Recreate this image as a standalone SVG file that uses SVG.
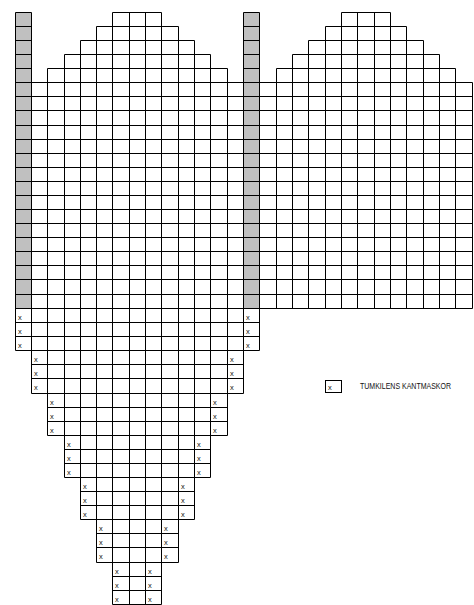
<svg xmlns="http://www.w3.org/2000/svg" width="474" height="605" viewBox="0 0 474 605">
<style>
.g{fill:#c0c0c0;stroke:none}
.ln{fill:none;stroke:#000;stroke-width:1}
.x{font-family:"Liberation Sans",Arial,sans-serif;font-size:7.5px;fill:#111}
.lt{font-family:"Liberation Sans",Arial,sans-serif;font-size:8.5px;fill:#111}
</style>
<rect width="474" height="605" fill="#fff"/>
<g id="edge-columns">
<rect class="g" x="15.5" y="12.5" width="16" height="296"/>
<rect class="g" x="243.5" y="12.5" width="16" height="296"/>
</g>
<g id="grid">
<path class="ln" d="
M15.5 12.5H31.5 M112.5 12.5H161.5 M243.5 12.5H259.5 M341.5 12.5H390.5
M15.5 26.5H31.5 M96.5 26.5H178.5 M243.5 26.5H259.5 M325.5 26.5H406.5
M15.5 40.5H31.5 M80.5 40.5H194.5 M243.5 40.5H259.5 M308.5 40.5H423.5
M15.5 54.5H31.5 M64.5 54.5H210.5 M243.5 54.5H259.5 M292.5 54.5H439.5
M15.5 68.5H31.5 M47.5 68.5H227.5 M243.5 68.5H259.5 M276.5 68.5H455.5
M15.5 82.5H472.5 M15.5 96.5H472.5 M15.5 110.5H472.5 M15.5 125.5H472.5
M15.5 139.5H472.5 M15.5 153.5H472.5 M15.5 167.5H472.5 M15.5 181.5H472.5
M15.5 195.5H472.5 M15.5 209.5H472.5 M15.5 223.5H472.5 M15.5 237.5H472.5
M15.5 251.5H472.5 M15.5 265.5H472.5 M15.5 279.5H472.5 M15.5 294.5H472.5
M15.5 308.5H472.5
M15.5 322.5H259.5 M15.5 336.5H259.5 M15.5 350.5H259.5
M31.5 364.5H243.5 M31.5 378.5H243.5 M31.5 393.5H243.5
M47.5 407.5H227.5 M47.5 421.5H227.5 M47.5 435.5H227.5
M64.5 449.5H210.5 M64.5 463.5H210.5 M64.5 477.5H210.5
M80.5 491.5H194.5 M80.5 505.5H194.5 M80.5 519.5H194.5
M96.5 533.5H178.5 M96.5 547.5H178.5 M96.5 562.5H178.5
M112.5 576.5H161.5 M112.5 590.5H161.5 M112.5 604.5H161.5
M15.5 12.5V350.5
M31.5 12.5V393.5
M47.5 68.5V435.5
M64.5 54.5V477.5
M80.5 40.5V519.5
M96.5 26.5V562.5
M112.5 12.5V604.5
M129.5 12.5V604.5
M145.5 12.5V604.5
M161.5 12.5V604.5
M178.5 26.5V562.5
M194.5 40.5V519.5
M210.5 54.5V477.5
M227.5 68.5V435.5
M243.5 12.5V393.5
M259.5 12.5V350.5
M276.5 68.5V308.5
M292.5 54.5V308.5
M308.5 40.5V308.5
M325.5 26.5V308.5
M341.5 12.5V308.5
M357.5 12.5V308.5
M374.5 12.5V308.5
M390.5 12.5V308.5
M406.5 26.5V308.5
M423.5 40.5V308.5
M439.5 54.5V308.5
M455.5 68.5V308.5
M472.5 82.5V308.5
"/>
</g>
<g id="marks">
<text class="x" x="18" y="319.5">x</text><text class="x" x="246" y="319.5">x</text>
<text class="x" x="18" y="333.5">x</text><text class="x" x="246" y="333.5">x</text>
<text class="x" x="18" y="347.5">x</text><text class="x" x="246" y="347.5">x</text>
<text class="x" x="34" y="361.5">x</text><text class="x" x="230" y="361.5">x</text>
<text class="x" x="34" y="375.5">x</text><text class="x" x="230" y="375.5">x</text>
<text class="x" x="34" y="389.5">x</text><text class="x" x="230" y="389.5">x</text>
<text class="x" x="50" y="404.5">x</text><text class="x" x="213" y="404.5">x</text>
<text class="x" x="50" y="418.5">x</text><text class="x" x="213" y="418.5">x</text>
<text class="x" x="50" y="432.5">x</text><text class="x" x="213" y="432.5">x</text>
<text class="x" x="67" y="446.5">x</text><text class="x" x="197" y="446.5">x</text>
<text class="x" x="67" y="460.5">x</text><text class="x" x="197" y="460.5">x</text>
<text class="x" x="67" y="474.5">x</text><text class="x" x="197" y="474.5">x</text>
<text class="x" x="83" y="488.5">x</text><text class="x" x="181" y="488.5">x</text>
<text class="x" x="83" y="502.5">x</text><text class="x" x="181" y="502.5">x</text>
<text class="x" x="83" y="516.5">x</text><text class="x" x="181" y="516.5">x</text>
<text class="x" x="99" y="530.5">x</text><text class="x" x="164" y="530.5">x</text>
<text class="x" x="99" y="544.5">x</text><text class="x" x="164" y="544.5">x</text>
<text class="x" x="99" y="558.5">x</text><text class="x" x="164" y="558.5">x</text>
<text class="x" x="115" y="573.5">x</text><text class="x" x="148" y="573.5">x</text>
<text class="x" x="115" y="587.5">x</text><text class="x" x="148" y="587.5">x</text>
<text class="x" x="115" y="601.5">x</text><text class="x" x="148" y="601.5">x</text>
</g>
<g id="legend">
<rect class="ln" x="325.5" y="380.5" width="16" height="12"/>
<text class="x" x="328" y="389.5">x</text>
<text class="lt" x="360" y="389" textLength="91" lengthAdjust="spacingAndGlyphs">TUMKILENS KANTMASKOR</text>
</g>
</svg>
